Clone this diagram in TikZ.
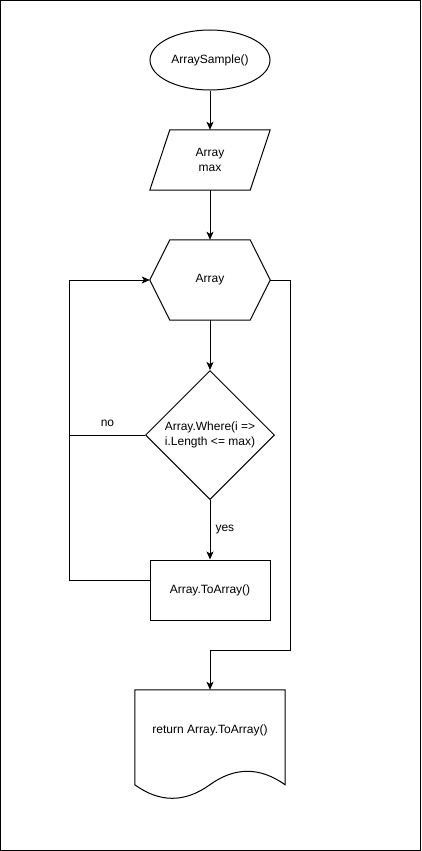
\documentclass[tikz,border=0pt]{standalone}
\usepackage{fontspec}
\setmainfont{Liberation Sans}
\usetikzlibrary{shapes.geometric, arrows.meta, calc}

\tikzset{
  flow/.style={draw, line width=1pt, font=\fontsize{12}{15}\selectfont, align=center},
  ghost/.style={font=\fontsize{12}{15}\selectfont, align=center, inner sep=0pt},
  link/.style={line width=1pt, -{Stealth[length=8pt, width=7pt, inset=2pt]}},
  plain/.style={line width=1pt}
}

\begin{document}
\begin{tikzpicture}[x=1pt, y=-1pt]
  \useasboundingbox (0,0) rectangle (421,851);
  % Frame
  \draw[line width=1pt] (0.5,0.5) rectangle (420.5,850.5);

  % Nodes
  \node[flow, ellipse, minimum width=120pt, minimum height=60pt, inner sep=0pt] (start) at (210,60) {ArraySample()};
  \node[ghost, minimum width=120pt, minimum height=60pt] (input) at (210,160) {Array\\max};
  \node[ghost, minimum width=120pt, minimum height=80pt] (loop) at (210,280) {Array};
  \node[flow, diamond, minimum width=129pt, minimum height=129pt, inner sep=0pt] (cond) at (210,435) {Array.Where(i =>\\i.Length <= max)};
  \node[flow, rectangle, minimum width=120pt, minimum height=60pt] (body) at (210,590) {Array.ToArray()};
  \node[ghost, minimum width=150pt, minimum height=80pt] (result) at (210,730) {return Array.ToArray()};

  % Parallelogram
  \draw[plain] ($(input.north west)+(20,0)$) -- (input.north east)
    -- ($(input.south east)+(-20,0)$) -- (input.south west) -- cycle;

  % Hexagon
  \draw[plain] (loop.west) -- ($(loop.north west)+(20,0)$) -- ($(loop.north east)+(-20,0)$)
    -- (loop.east) -- ($(loop.south east)+(-20,0)$) -- ($(loop.south west)+(20,0)$) -- cycle;

  % Document
  \draw[plain] ($(result.north west)+(0,95)$) -- (result.north west) -- (result.north east)
    -- ($(result.north east)+(0,95)$)
    .. controls ($(result.north west)+(125,77)$) and ($(result.north west)+(100,77)$) .. ($(result.north west)+(75,95)$)
    .. controls ($(result.north west)+(50,113)$) and ($(result.north west)+(25,113)$) .. cycle;

  % Connectors
  \draw[link] (start) -- (input);
  \draw[link] (input) -- (loop);
  \draw[link] (loop) -- (cond);
  \draw[link] (cond) -- node[ghost, right=5pt] {yes} (body);
  \draw[plain] (cond.west) -- node[ghost, above=8pt] {no} ++(-75,0);
  \draw[link] ($(body.west)+(0,-10)$) -- ++(-80,0) |- (loop.west);
  \draw[link] (loop.east) -- ++(20,0) -- ++(0,370) -| (result.north);
\end{tikzpicture}
\end{document}
